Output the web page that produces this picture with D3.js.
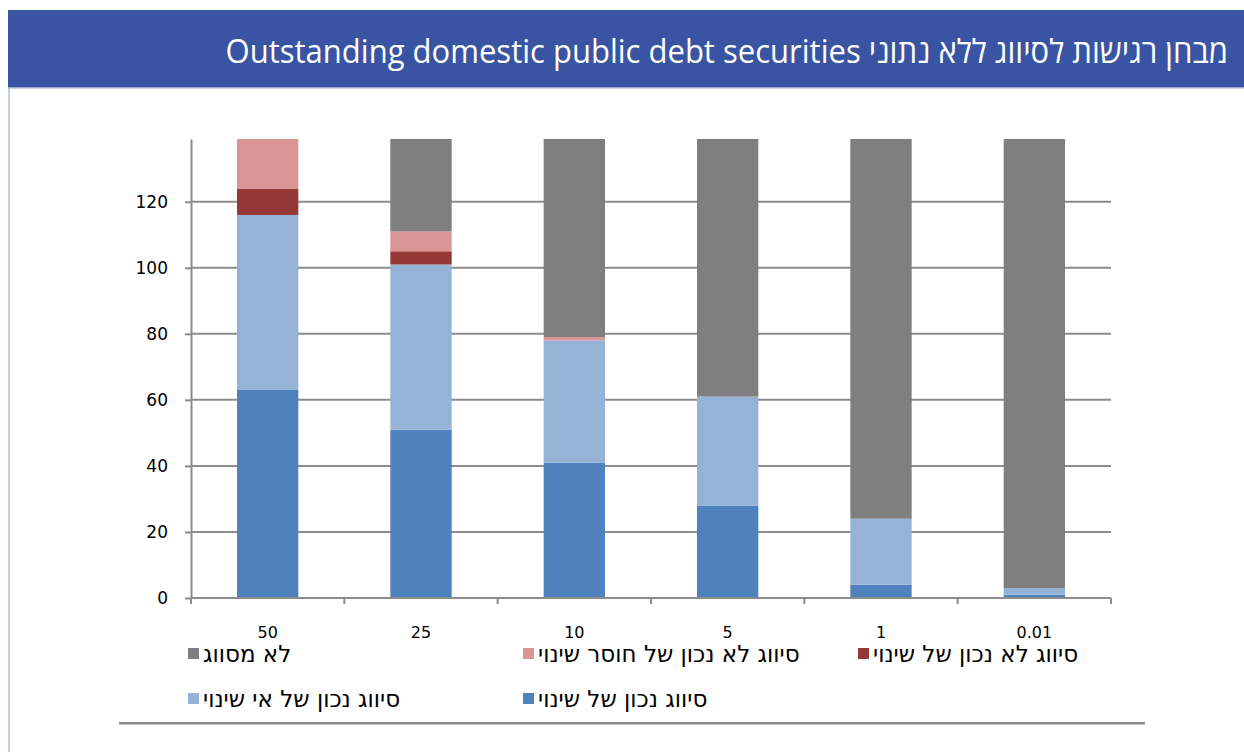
<!DOCTYPE html>
<html lang="he">
<head>
<meta charset="utf-8">
<script src="https://cdn.jsdelivr.net/npm/d3@7"></script>
<style>
  html, body { margin: 0; padding: 0; background: #ffffff; }
  svg { display: block; }
</style>
</head>
<body>
<svg id="chart" width="1244" height="752"></svg>
<script>
// Categories along the x axis (threshold values)
const categories = ["50", "25", "10", "5", "1", "0.01"];

// Stacked series, bottom to top
const seriesNames = [
  "סיווג נכון של שינוי",
  "סיווג נכון של אי שינוי",
  "סיווג לא נכון של שינוי",
  "סיווג לא נכון של חוסר שינוי",
  "לא מסווג"
];
const correctChange    = [63, 51, 41, 28, 4, 1];
const correctNoChange  = [53, 50, 37, 33, 20, 2];
const wrongChange      = [8, 4, 0, 0, 0, 0];
const wrongNoChange    = [15, 6, 1, 0, 0, 0];
const unclassified     = [0, 28, 60, 78, 115, 136];

const seriesColors = ["#4F81BD", "#95B3D7", "#953735", "#D99694", "#7F7F7F"];

const yTicks = [0, 20, 40, 60, 80, 100, 120];
const yMax = 139;

const titleText = "מבחן רגישות לסיווג ללא נתוני Outstanding domestic public debt securities";

// ---- build a table for d3.stack ----
const seriesValues = [correctChange, correctNoChange, wrongChange, wrongNoChange, unclassified];
const table = categories.map((c, i) => {
  const row = { cat: c };
  seriesNames.forEach((s, j) => { row[s] = seriesValues[j][i]; });
  return row;
});
const stacked = d3.stack().keys(seriesNames)(table);

const svg = d3.select("#chart");
const W = 1244, H = 752;

// ---- page frame and title band ----
svg.append("rect").attr("x", 0).attr("y", 0).attr("width", W).attr("height", H).attr("fill", "#ffffff");
svg.append("rect").attr("x", 8).attr("y", 87).attr("width", 2).attr("height", H - 87).attr("fill", "#C9CCE6");
svg.append("rect").attr("x", 8).attr("y", 10).attr("width", W - 8).attr("height", 77).attr("fill", "#3A54A4");
svg.append("rect").attr("x", 8).attr("y", 87).attr("width", W - 8).attr("height", 1.5).attr("fill", "#9AA8DA");

// title, right-aligned, condensed to fit its band
const titleRight = 1228, titleLeft = 225;
const title = svg.append("text")
  .attr("x", titleRight).attr("y", 63)
  .attr("direction", "rtl")
  .attr("text-anchor", "start")
  .attr("fill", "#ffffff")
  .style("font-family", "'Open Sans', 'DejaVu Sans', sans-serif")
  .style("font-size", "33px")
  .text(titleText);
const tw = title.node().getComputedTextLength();
const sx = (titleRight - titleLeft) / tw;
title.attr("transform", `translate(${titleRight},0) scale(${sx},1) translate(${-titleRight},0)`);

// ---- plot area ----
const plot = { left: 191, right: 1111, top: 139, bottom: 598 };

const x = d3.scaleBand()
  .domain(categories)
  .range([plot.left, plot.right])
  .paddingInner(0.6)
  .paddingOuter(0.3);

const y = d3.scaleLinear()
  .domain([0, yMax])
  .range([plot.bottom, plot.top]);

const gridColor = "#8C8C8C";

// horizontal gridlines
svg.append("g")
  .selectAll("line")
  .data(yTicks.filter(t => t > 0))
  .join("line")
  .attr("x1", plot.left).attr("x2", plot.right)
  .attr("y1", d => y(d)).attr("y2", d => y(d))
  .attr("stroke", gridColor).attr("stroke-width", 2);

// bars
svg.append("g")
  .selectAll("g")
  .data(stacked)
  .join("g")
  .attr("fill", (d, i) => seriesColors[i])
  .selectAll("rect")
  .data(d => d)
  .join("rect")
  .attr("x", d => x(d.data.cat))
  .attr("width", x.bandwidth())
  .attr("y", d => y(d[1]))
  .attr("height", d => Math.max(0, y(d[0]) - y(d[1])));

// y axis
const yAxis = d3.axisLeft(y).tickValues(yTicks).tickSize(6).tickPadding(17).tickSizeOuter(0);
const gy = svg.append("g").attr("transform", `translate(${plot.left},0)`).call(yAxis);
gy.select(".domain").attr("stroke", gridColor).attr("stroke-width", 2);
gy.selectAll(".tick line").attr("stroke", gridColor).attr("stroke-width", 2);
gy.selectAll(".tick text")
  .attr("fill", "#000")
  .style("font-family", "'DejaVu Sans', sans-serif")
  .style("font-size", "17px");

// x axis: ticks at category boundaries, labels centred under bars
const gx = svg.append("g").attr("transform", `translate(0,${plot.bottom})`);
gx.append("line")
  .attr("x1", plot.left).attr("x2", plot.right)
  .attr("y1", 0).attr("y2", 0)
  .attr("stroke", gridColor).attr("stroke-width", 2);
const step = x.step();
const boundaries = d3.range(categories.length + 1).map(i => plot.left + i * step);
gx.selectAll("line.tick")
  .data(boundaries)
  .join("line")
  .attr("class", "tick")
  .attr("x1", d => d).attr("x2", d => d)
  .attr("y1", 0).attr("y2", 6)
  .attr("stroke", gridColor).attr("stroke-width", 2);
gx.selectAll("text")
  .data(categories)
  .join("text")
  .attr("x", d => x(d) + x.bandwidth() / 2)
  .attr("y", 40)
  .attr("text-anchor", "middle")
  .attr("fill", "#000")
  .style("font-family", "'DejaVu Sans', sans-serif")
  .style("font-size", "16px")
  .text(d => d);

// ---- legend: series listed top of stack first, three per row ----
const legendOrder = d3.range(seriesNames.length).reverse();
const colX = [188, 523, 858];
const rowY = [654, 699];
const leg = svg.append("g");
legendOrder.forEach((si, k) => {
  const cx = colX[k % 3];
  const cy = rowY[Math.floor(k / 3)];
  leg.append("rect")
    .attr("x", cx).attr("y", cy - 6)
    .attr("width", 11).attr("height", 11)
    .attr("fill", seriesColors[si]);
  leg.append("text")
    .attr("x", cx + 15).attr("y", cy + 8)
    .attr("text-anchor", "start")
    .attr("fill", "#000")
    .style("font-family", "'DejaVu Sans', sans-serif")
    .style("font-size", "23px")
    .text(seriesNames[si]);
});

// bottom separator rule
svg.append("rect")
  .attr("x", 119).attr("y", 722).attr("width", 1145 - 119).attr("height", 2.5)
  .attr("fill", "#8A8A8A");
</script>
</body>
</html>
